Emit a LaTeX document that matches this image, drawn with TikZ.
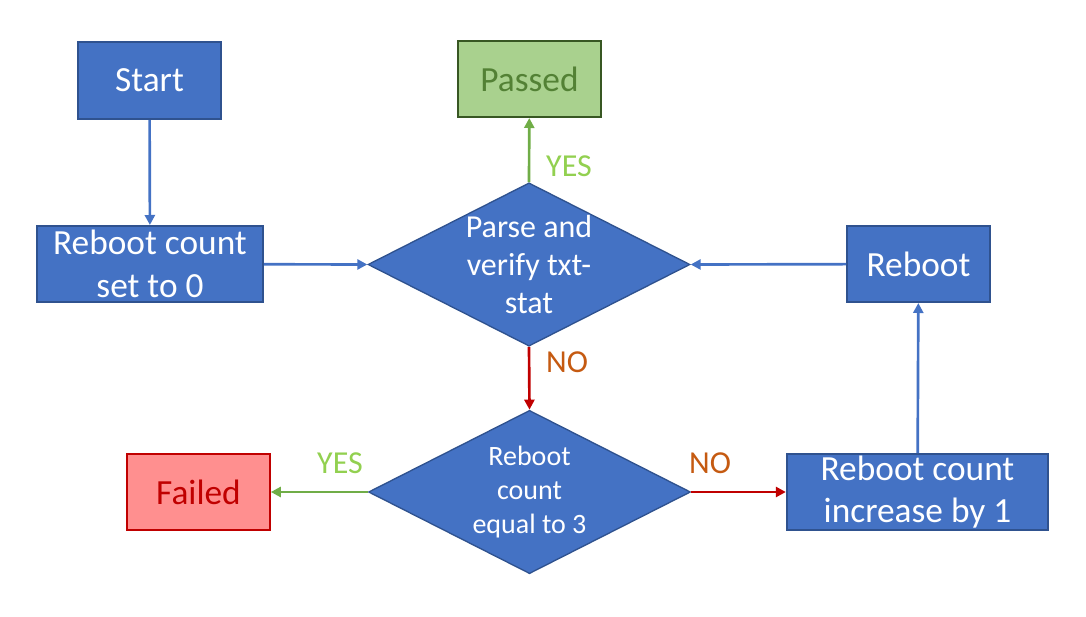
\documentclass[tikz,border=0pt]{standalone}
\usepackage{fontspec}
\setmainfont{Carlito}
\usetikzlibrary{shapes.geometric,arrows.meta}
\definecolor{boxblue}{HTML}{4472C4}
\definecolor{edgeblue}{HTML}{2F528F}
\definecolor{okfill}{HTML}{A9D18E}
\definecolor{okedge}{HTML}{385723}
\definecolor{oktext}{HTML}{538135}
\definecolor{badfill}{HTML}{FF8F8F}
\definecolor{badedge}{HTML}{C00000}
\definecolor{yesline}{HTML}{70AD47}
\definecolor{yestext}{HTML}{92D050}
\definecolor{notext}{HTML}{C55A11}
\begin{document}
\begin{tikzpicture}[
  x=0.75pt, y=-0.75pt,
  stepbox/.style={rectangle, draw=edgeblue, fill=boxblue, line width=1.5pt, text=white,
    align=center, inner sep=0pt, font=\fontsize{26.5}{32}\selectfont},
  decision/.style={diamond, draw=edgeblue, fill=boxblue, line width=1pt, text=white,
    align=center, inner sep=-50pt, minimum width=241.5pt, minimum height=122.5pt},
  answer/.style={font=\fontsize{24}{28}\selectfont},
  arrow/.style={-{Triangle[length=7.5pt,width=7.5pt]}, line width=2pt, boxblue},
  yesarrow/.style={arrow, yesline},
  noarrow/.style={arrow, badedge}
]
\useasboundingbox (0,0) rectangle (1086,617);

% boxes
\node[stepbox, minimum width=107pt, minimum height=58pt] (start) at (149.5,80.5) {Start};
\node[stepbox, minimum width=107pt, minimum height=57pt, fill=okfill, draw=okedge, text=oktext] (passed) at (529.5,79) {Passed};
\node[stepbox, minimum width=169.5pt, minimum height=57pt] (reset) at (150,264) {Reboot count\\set to 0};
\node[stepbox, minimum width=107pt, minimum height=57pt] (reboot) at (918.5,264) {Reboot};
\node[stepbox, minimum width=107pt, minimum height=57pt, fill=badfill, draw=badedge, text=badedge] (failed) at (198.5,492) {Failed};
\node[stepbox, minimum width=196pt, minimum height=57pt] (increase) at (917.5,492) {Reboot count\\increase by 1};

% decisions
\node[decision, font=\fontsize{24}{28.5}\selectfont] (verify) at (529,264.5) {Parse and\\verify txt-\\stat};
\node[decision, font=\fontsize{21}{25.5}\selectfont] (limit) at (529.5,492) {Reboot\\count\\equal to 3};

% connectors
\draw[arrow] (start) -- (reset);
\draw[arrow] (reset) -- (verify.west);
\draw[arrow] (reboot) -- (verify.east);
\draw[yesarrow] (verify.north) -- (passed);
\draw[noarrow] (verify.south) -- (limit.north);
\draw[yesarrow] (limit.west) -- (failed);
\draw[noarrow] (limit.east) -- (increase);
\draw[arrow] (increase) -- (reboot);

% answers
\node[answer, text=yestext] (yes1) at (569,166) {YES};
\node[answer, text=notext] (no1) at (567,362) {NO};
\node[answer, text=yestext] (yes2) at (340,463) {YES};
\node[answer, text=notext] (no2) at (710,463) {NO};

\end{tikzpicture}
\end{document}
